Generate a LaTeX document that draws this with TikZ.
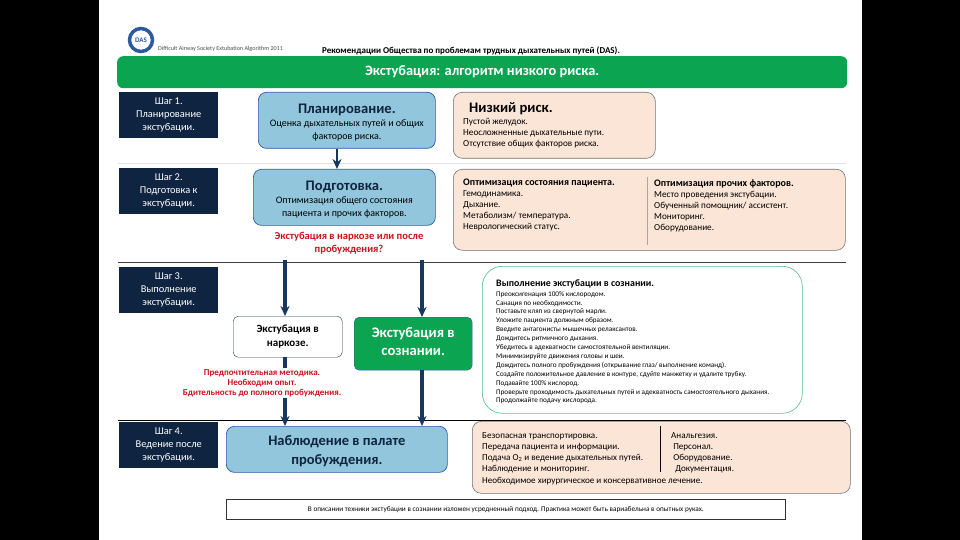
\documentclass[tikz,border=0pt]{standalone}
\usepackage{fontspec}
\setmainfont{Carlito}
\usepackage{tikz}
\usetikzlibrary{arrows.meta, positioning}

\definecolor{dasgreen}{HTML}{0BA552}
\definecolor{dasnavy}{HTML}{0E2440}
\definecolor{dasblue}{HTML}{92C6DC}
\definecolor{dasedge}{HTML}{2C5A9E}
\definecolor{daspeach}{HTML}{FBE5D6}
\definecolor{dasred}{HTML}{C8141E}
\definecolor{dasarrow}{HTML}{17375E}

\newcommand{\fs}[2]{\fontsize{#1}{#2}\selectfont}

\begin{document}
\begin{tikzpicture}[x=1pt, y=-1pt, >=stealth]

\tikzset{
    stepbox/.style={rectangle, anchor=north west, fill=dasnavy, text=white, align=center,
                    minimum width=99pt, minimum height=46pt, inner sep=0pt, font=\fs{10.4}{13}},
    mainbox/.style={rectangle, rounded corners=8pt, anchor=north west, fill=dasblue, draw=dasedge,
                    line width=0.7pt, align=center, inner sep=0pt, font=\fs{10}{13}},
    peachbox/.style={rectangle, rounded corners=9pt, anchor=north west, fill=daspeach, draw=black!55,
                     line width=0.6pt, inner sep=0pt},
    listtext/.style={anchor=north west, align=left, inner sep=0pt, font=\fs{9.2}{11}},
    redtext/.style={text=dasred, align=center, inner sep=1pt, font=\bfseries\fs{9}{10}},
    flow/.style={->, draw=dasarrow, line width=3.4pt, >={Stealth[length=10pt, width=9pt]}}
}

% -- фон --
\fill[white] (0,0) rectangle (960,540);
\fill[black] (0,0) rectangle (99,540);
\fill[black] (862,0) rectangle (960,540);

% -- шапка --
\node[circle, draw=dasedge, line width=3.5pt, minimum size=23pt, inner sep=0pt, text=dasedge,
      font=\bfseries\fs{7}{7}] (logo) at (141,40) {DAS};
\node[anchor=west, inner sep=0pt, text=black!70, font=\fs{6.1}{7}] (subtitle) at (158,48.5)
    {Difficult Airway Society Extubation Algorithm 2011};
\node[inner sep=0pt, font=\bfseries\fs{9}{10}] (title) at (471,50.5)
    {Рекомендации Общества по проблемам трудных дыхательных путей (DAS).};
\node[rectangle, rounded corners=6pt, anchor=north west, fill=dasgreen, text=white,
      minimum width=730pt, minimum height=32pt, inner sep=0pt, font=\bfseries\fs{14.4}{16}] (head) at (117,56)
    {Экстубация: алгоритм низкого риска.};

% -- линии между шагами --
\draw[black!12, line width=0.6pt] (118,163) -- (846,163);
\draw[black!75, line width=0.8pt] (118,262) -- (846,262);
\draw[black, line width=0.8pt] (118,420) -- (846,420);

% -- шаги --
\node[stepbox] (S1) at (119,92)  {Шаг 1.\\Планирование\\экстубации.};
\node[stepbox] (S2) at (119,168) {Шаг 2.\\Подготовка к\\экстубации.};
\node[stepbox] (S3) at (119,267) {Шаг 3.\\Выполнение\\экстубации.};
\node[stepbox] (S4) at (119,422) {Шаг 4.\\Ведение после\\экстубации.};

% -- основной столбец --
\node[mainbox, minimum width=177pt, minimum height=56pt] (plan) at (258,92)
    {{\bfseries\fs{14.6}{16}\rule{0pt}{13.5pt}\textcolor{dasnavy}{Планирование.}}\\Оценка дыхательных путей и общих\\факторов риска.};
\node[mainbox, minimum width=182pt, minimum height=56pt] (prep) at (253,169)
    {{\bfseries\fs{14.6}{16}\rule{0pt}{13.5pt}\textcolor{dasnavy}{Подготовка.}}\\Оптимизация общего состояния\\пациента и прочих факторов.};
\node[redtext, font=\bfseries\fs{10.6}{13}] (choice) at (349,243) {Экстубация в наркозе или после\\пробуждения?};
\node[rectangle, rounded corners=5pt, anchor=north west, draw=dasarrow, fill=white, align=center,
      minimum width=109pt, minimum height=41pt, inner sep=0pt, font=\bfseries\fs{11}{14}] (deep) at (233,316)
    {Экстубация в\\наркозе.};
\node[rectangle, rounded corners=5pt, anchor=north west, draw=dasedge, fill=dasgreen, text=white, align=center,
      minimum width=118pt, minimum height=53pt, inner sep=0pt, text depth=4pt, font=\bfseries\fs{14.6}{18}] (awake) at (354,317)
    {Экстубация в\\сознании.};
\node[mainbox, minimum width=221pt, minimum height=46pt, text=dasnavy, font=\bfseries\fs{14.5}{19}] (ward) at (226,426)
    {\rule{0pt}{14pt}Наблюдение в палате\\пробуждения.};

% -- стрелки --
\coordinate (planx)   at (337,0);
\coordinate (deepin)  at (285,260);
\coordinate (awakein) at (422,260);
\draw[flow, line width=2.6pt] (plan.south -| planx) -- (prep.north -| planx);
\draw[flow] (deepin) -- (deep.north -| deepin);
\draw[flow] (awakein) -- (awake.north -| awakein);
\draw[flow] (deep.south -| deepin) -- (ward.north -| deepin);
\draw[flow] (awake.south -| awakein) -- (ward.north -| awakein);

\node[redtext, fill=white] (warn) at (262,383)
    {Предпочтительная методика.\\Необходим опыт.\\Бдительность до полного пробуждения.};

% -- правый столбец --
\node[peachbox, minimum width=202pt, minimum height=66pt] (risk) at (453,92) {};
\node[anchor=north west, inner sep=0pt, font=\bfseries\fs{14.6}{16}] (risktitle) at (469,102.5) {Низкий риск.};
\node[listtext] (risklist) at (463,118)
    {Пустой желудок.\\Неосложненные дыхательные пути.\\Отсутствие общих факторов риска.};

\node[peachbox, minimum width=392pt, minimum height=81pt] (opt) at (453,169) {};
\draw[black!35, line width=0.5pt] (647,177) -- (647,245);
\node[listtext] (optpat) at (463,179)
    {{\bfseries\fs{10}{11}Оптимизация состояния пациента.}\\Гемодинамика.\\Дыхание.\\Метаболизм/ температура.\\Неврологический статус.};
\node[listtext] (optoth) at (654,179)
    {{\bfseries\fs{10}{11}Оптимизация прочих факторов.}\\Место проведения экстубации.\\Обученный помощник/ ассистент.\\Мониторинг.\\Оборудование.};

\node[rectangle, rounded corners=20pt, anchor=north west, draw=dasgreen!70, fill=white, line width=0.6pt,
      minimum width=320pt, minimum height=147pt, inner sep=0pt] (steps) at (482,266) {};
\node[anchor=north west, inner sep=0pt, font=\bfseries\fs{9.9}{11}] (stepstitle) at (496,279)
    {Выполнение экстубации в сознании.};
\node[anchor=north west, align=left, inner sep=0pt, font=\fs{7.2}{8.9}] (stepslist) at (496,291)
    {Преоксигенация 100\% кислородом.\\
     Санация по необходимости.\\
     Поставьте кляп из свернутой марли.\\
     Уложите пациента должным образом.\\
     Введите антагонисты мышечных релаксантов.\\
     Дождитесь ритмичного дыхания.\\
     Убедитесь в адекватности самостоятельной вентиляции.\\
     Минимизируйте движения головы и шеи.\\
     Дождитесь полного пробуждения (открывание глаз/ выполнение команд).\\
     Создайте положительное давление в контуре, сдуйте манжетку и удалите трубку.\\
     Подавайте 100\% кислород.\\
     Проверьте проходимость дыхательных путей и адекватность самостоятельного дыхания.\\
     Продолжайте подачу кислорода.};

\node[peachbox, minimum width=378pt, minimum height=72pt] (after) at (472,421) {};
\draw[black, line width=0.7pt] (660,426) -- (660,472);
\node[listtext, font=\fs{9.1}{11.3}] (afterl) at (482,432)
    {Безопасная транспортировка.\\Передача пациента и информации.\\Подача O\textsubscript{2} и ведение дыхательных путей.\\Наблюдение и мониторинг.\\Необходимое хирургическое и консервативное лечение.};
\node[listtext, font=\fs{9.1}{11.3}] (afterr) at (671,432)
    {Анальгезия.\\\ Персонал.\\\ Оборудование.\\\ \ Документация.};

% -- примечание --
\node[rectangle, anchor=north west, draw=black!80, line width=0.6pt, minimum width=559pt, minimum height=20pt,
      inner sep=0pt, font=\fs{7.25}{8}] (note) at (226,499)
    {В описании техники экстубации в сознании изложен усредненный подход. Практика может быть вариабельна в опытных руках.};

\end{tikzpicture}
\end{document}
